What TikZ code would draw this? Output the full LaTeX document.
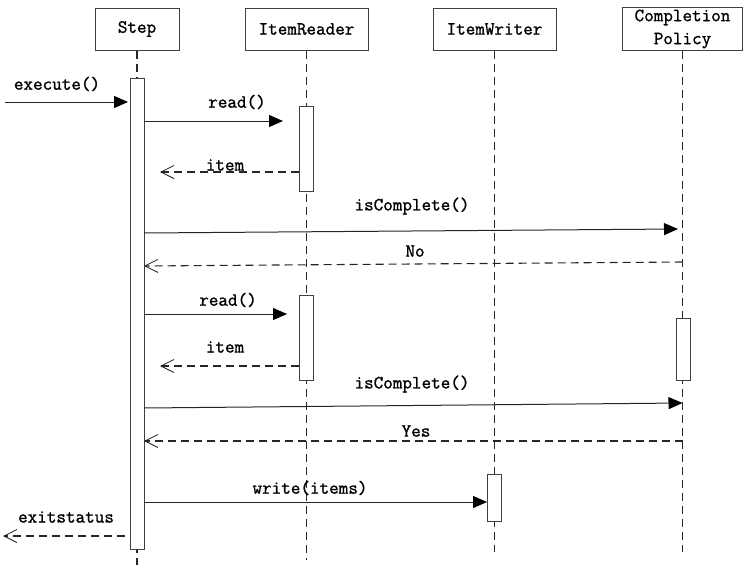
\documentclass[tikz,border=0pt]{standalone}
\usepackage{fontspec}
\setmonofont{Latin Modern Mono}[FakeBold=1.2]
\usetikzlibrary{arrows.meta}

\tikzset{
  head/.style={draw=black!75, line width=1pt, minimum height=42pt, inner sep=2pt,
    font=\ttfamily\fontsize{18.6}{23}\selectfont, align=center},
  act/.style={draw=black!75, line width=1pt, fill=white, minimum width=14pt, inner sep=0pt},
  life/.style={draw=black!85, line width=1.1pt, dash pattern=on 8pt off 5pt},
  call/.style={draw=black!85, line width=1pt, -{Triangle[length=14pt,width=12pt,black]}},
  reply/.style={draw=black!85, line width=1.1pt, dash pattern=on 8pt off 5pt,
    -{Straight Barb[length=13pt,width=13pt,line width=0.8pt]}},
  lbl/.style={font=\ttfamily\fontsize{18.6}{21}\selectfont, inner sep=0pt}
}

\begin{document}
\begin{tikzpicture}[x=1pt,y=-1pt]
      \useasboundingbox (0,0) rectangle (746,565);
      % participants
      \node[head, minimum width=84pt] (step) at (137,29) {Step};
      \node[head, minimum width=123pt] (reader) at (306.5,29) {ItemReader};
      \node[head, minimum width=123pt] (writer) at (494.5,29) {ItemWriter};
      \node[head, minimum width=120pt] (policy) at (682.5,29) {Completion\\Policy};
      \coordinate (stepend) at (137,565);
      \coordinate (readerend) at (306.5,560);
      \coordinate (writerend) at (494.5,552);
      \coordinate (policyend) at (682.5,552);
      \draw[life] (step.south) -- (stepend);
      \draw[life] (reader.south) -- (readerend);
      \draw[life] (writer.south) -- (writerend);
      \draw[life] (policy.south) -- (policyend);
      % activations
      \node[act, minimum height=471pt] (stepact) at (137,313.5) {};
      \node[act, minimum height=85pt] (readact1) at (306.5,148.5) {};
      \node[act, minimum height=85pt] (readact2) at (306.5,337.5) {};
      \node[act, minimum height=62pt] (policyact) at (683.5,349) {};
      \node[act, minimum height=47pt] (writeact) at (494.5,497.5) {};
      % message ends
      \coordinate (exec0) at (5,102);    \coordinate (exec1) at (128,102);
      \coordinate (read1a) at (144,121); \coordinate (read1b) at (283,121);
      \coordinate (item1a) at (299,172); \coordinate (item1b) at (160,172);
      \coordinate (isc1a) at (144,233);  \coordinate (isc1b) at (678,229);
      \coordinate (noa) at (682.5,262);  \coordinate (nob) at (144,266);
      \coordinate (read2a) at (144,314); \coordinate (read2b) at (287,314);
      \coordinate (item2a) at (299,366); \coordinate (item2b) at (160,366);
      \coordinate (isc2a) at (144,408);  \coordinate (isc2b) at (682.5,403);
      \coordinate (yesa) at (682.5,441); \coordinate (yesb) at (144,441);
      \coordinate (writea) at (144,502); \coordinate (writeb) at (487,502);
      \coordinate (exita) at (125,536);  \coordinate (exitb) at (3,536);
      \begin{scope}
        \draw[call] (exec0) to (exec1);
        \draw[call] (read1a) to (read1b);
        \draw[reply] (item1a) to (item1b);
        \draw[call] (isc1a) to (isc1b);
        \draw[reply] (noa) to (nob);
        \draw[call] (read2a) to (read2b);
        \draw[reply] (item2a) to (item2b);
        \draw[call] (isc2a) to (isc2b);
        \draw[reply] (yesa) to (yesb);
        \draw[call] (writea) to (writeb);
        \draw[reply] (exita) to (exitb);
      \end{scope}
      % labels
      \node[lbl] (lexec) at (57,84) {execute()};
      \node[lbl] (lread1) at (237,102) {read()};
      \node[lbl] (litem1) at (225,165) {item};
      \node[lbl] (lisc1) at (412,206) {isComplete()};
      \node[lbl] (lno) at (415,251) {No};
      \node[lbl] (lread2) at (228,300) {read()};
      \node[lbl] (litem2) at (225,347) {item};
      \node[lbl] (lisc2) at (412,384) {isComplete()};
      \node[lbl] (lyes) at (416,431) {Yes};
      \node[lbl] (lwrite) at (310,488) {write(items)};
      \node[lbl] (lexit) at (66,517) {exitstatus};
    \end{tikzpicture}
\end{document}
